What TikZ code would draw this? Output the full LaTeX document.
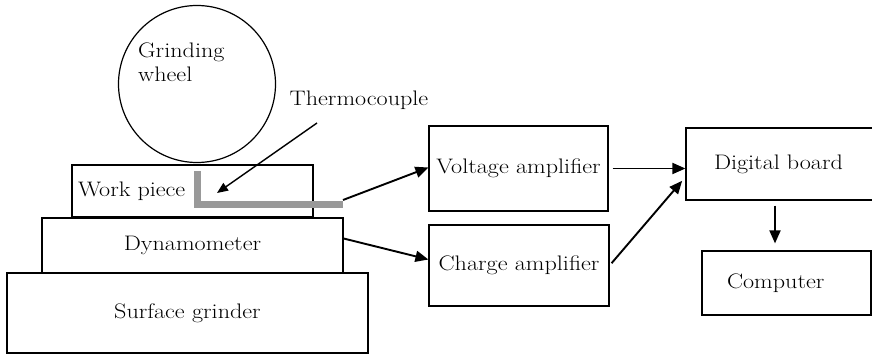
\documentclass[tikz,border=0pt]{standalone}
\usepackage{fontspec}
\newfontfamily\diagfont{Latin Modern Roman}[FakeStretch=1.15]
\usetikzlibrary{arrows.meta}
\begin{document}
\begin{tikzpicture}[x=1pt,y=-1pt,
  font=\diagfont\fontsize{21}{24}\selectfont,
  blk/.style={draw,line width=1.2pt,inner sep=0pt},
  sig/.style={-{Triangle[length=13pt,width=11pt]},line width=1.9pt},
  thin sig/.style={-{Triangle[length=11pt,width=9pt]},line width=1.4pt}]
 \useasboundingbox (0,0) rectangle (872,355);
 % grinding machine stack
 \node[blk,circle,minimum size=157pt] (wheel) at (197,84) {};
 \node[anchor=north west,align=left,inner sep=0pt] (wheeltxt) at (138,43) {Grinding\\wheel};
 \node[blk,minimum height=52pt,text width=229pt,inner xsep=6pt,align=left] (work) at (192.5,191) {Work piece};
 \node[blk,minimum width=301pt,minimum height=55pt] (dyn) at (192.5,245.5) {Dynamometer};
 \node[blk,minimum width=361pt,minimum height=80pt] (grinder) at (187.5,313) {Surface grinder};
 % thermocouple
 \draw[black!40,line width=7pt] (197,171) -- (197,205) -- (343,205);
 \coordinate (tcend) at (343,200);
 \coordinate (tctip) at (217,193);
 \node (thermo) at (359,100) {Thermocouple};
 \draw[thin sig] (317,123) -- (tctip);
 % signal chain
 \node[blk,minimum width=179pt,minimum height=85pt] (volt) at (518.5,168.5) {Voltage amplifier};
 \node[blk,minimum width=180pt,minimum height=81pt] (charge) at (519,265.5) {Charge amplifier};
 \node[blk,minimum height=72pt,text width=134pt,inner xsep=28pt,align=left] (board) at (781,164) {Digital board};
 \node[blk,minimum height=64pt,text width=119pt,inner xsep=25pt,align=left] (comp) at (786.5,283) {Computer};
 \draw[sig] (tcend) -- ([yshift=1pt]volt.west);
 \draw[sig] ([yshift=7pt]dyn.east) -- ([yshift=6pt]charge.west);
 \draw[sig,shorten <=4pt] (volt.east) -- (volt.east -| board.west);
 \draw[sig,shorten <=3pt,shorten >=5pt] (charge.east) -- ([yshift=-13pt]board.west);
 \draw[sig,shorten <=5pt,shorten >=7pt] ([xshift=-6pt]board.south) -- ([xshift=-6pt]board.south |- comp.north);
\end{tikzpicture}
\end{document}
